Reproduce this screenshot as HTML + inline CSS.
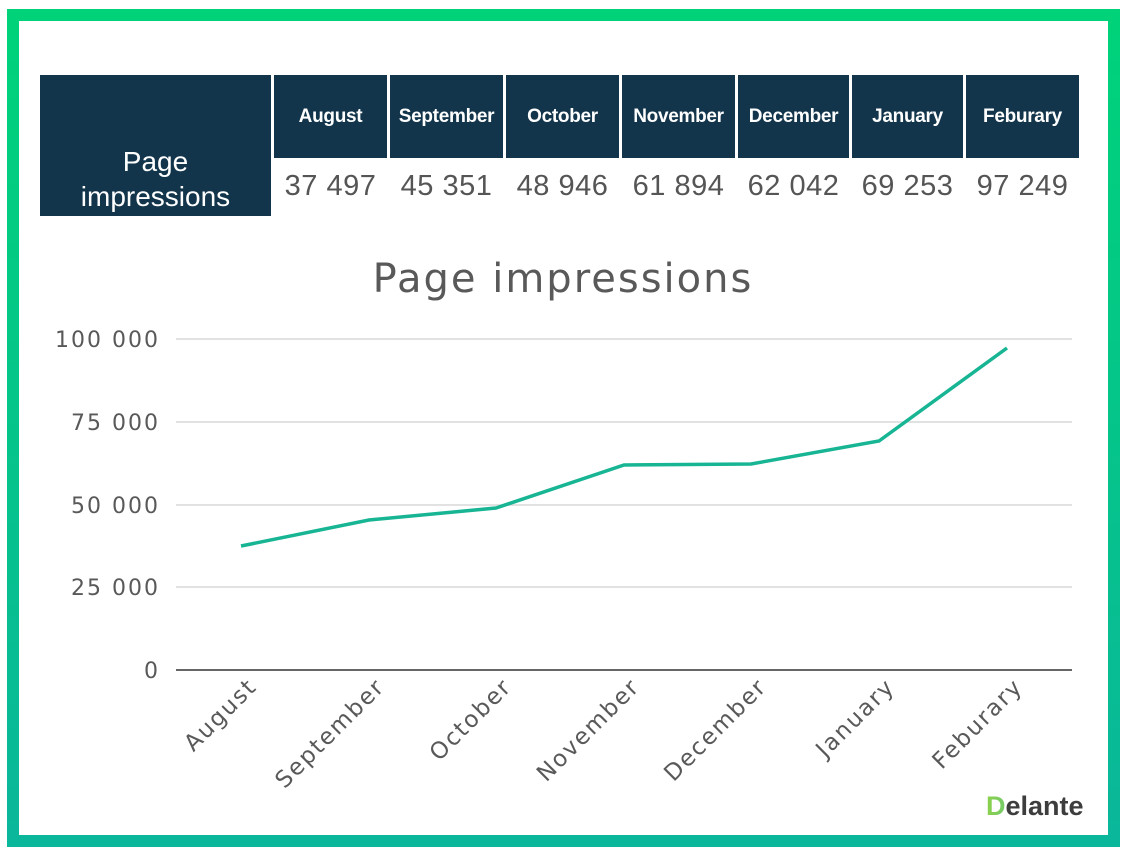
<!DOCTYPE html>
<html><head><style>
body{margin:0;width:1128px;height:854px;background:#fff;position:relative;overflow:hidden;font-family:"Liberation Sans",sans-serif}
.frame{position:absolute;left:7px;top:9px;width:1089px;height:814px;border:12px solid #05c98a;border-image:linear-gradient(#00d27a,#0ab79a) 1}
.hd{position:absolute;background:#12354b;color:#fff;font-weight:bold;display:flex;align-items:center;justify-content:center;text-align:center}
.m{top:75px;height:83px;font-size:19px;letter-spacing:-0.3px}
.v{position:absolute;top:170px;font-size:29px;letter-spacing:0.5px;color:#555;text-align:center}
</style></head><body>
<div class="frame"></div>
<div class="hd" style="left:40px;top:75px;width:231px;height:141px;font-size:28px;font-weight:normal;line-height:35px;padding-top:66px;box-sizing:border-box">Page<br>impressions</div>
<div class="hd m" style="left:274px;width:113px">August</div>
<div class="hd m" style="left:390px;width:113px">September</div>
<div class="hd m" style="left:506px;width:113px">October</div>
<div class="hd m" style="left:622px;width:113px">November</div>
<div class="hd m" style="left:738px;width:111px">December</div>
<div class="hd m" style="left:852px;width:111px">January</div>
<div class="hd m" style="left:966px;width:113px">Feburary</div>
<div class="v" style="left:274px;width:113px">37 497</div>
<div class="v" style="left:390px;width:113px">45 351</div>
<div class="v" style="left:506px;width:113px">48 946</div>
<div class="v" style="left:622px;width:113px">61 894</div>
<div class="v" style="left:738px;width:111px">62 042</div>
<div class="v" style="left:852px;width:111px">69 253</div>
<div class="v" style="left:966px;width:113px">97 249</div>
<svg width="1128" height="854" style="position:absolute;left:0;top:0" font-family="DejaVu Sans, sans-serif">
<text x="563" y="292" text-anchor="middle" font-size="40" letter-spacing="2" fill="#595959">Page impressions</text>
<g stroke="#d9d9d9" stroke-width="1.5">
<line x1="176" x2="1072" y1="339" y2="339"/><line x1="176" x2="1072" y1="422" y2="422"/>
<line x1="176" x2="1072" y1="505" y2="505"/><line x1="176" x2="1072" y1="587" y2="587"/></g>
<line x1="176" x2="1072" y1="670" y2="670" stroke="#666" stroke-width="2"/>
<g font-size="22" letter-spacing="2" fill="#595959" text-anchor="end">
<text x="160" y="347">100 000</text><text x="160" y="430">75 000</text><text x="160" y="513">50 000</text><text x="160" y="595">25 000</text><text x="160" y="678">0</text></g>
<polyline fill="none" stroke="#17b593" stroke-width="3.5" points="241,546 369,520 496,508 624,465 751,464 879,441 1007,348"/>
<g font-size="23" letter-spacing="1.8" fill="#595959" text-anchor="end">
<text transform="translate(258,688) rotate(-45)">August</text>
<text transform="translate(386,688) rotate(-45)">September</text>
<text transform="translate(513,688) rotate(-45)">October</text>
<text transform="translate(641,688) rotate(-45)">November</text>
<text transform="translate(768,688) rotate(-45)">December</text>
<text transform="translate(896,688) rotate(-45)">January</text>
<text transform="translate(1024,688) rotate(-45)">Feburary</text></g>
<defs><linearGradient id="g" x1="0" x2="1"><stop offset="0" stop-color="#8bd14a"/><stop offset="1" stop-color="#1ab0e0"/></linearGradient></defs>
<text x="986" y="815" font-size="27" font-family="Liberation Sans, sans-serif" font-weight="bold" fill="#3d3d3d"><tspan fill="url(#g)">D</tspan>elante</text>
</svg>
</body></html>
